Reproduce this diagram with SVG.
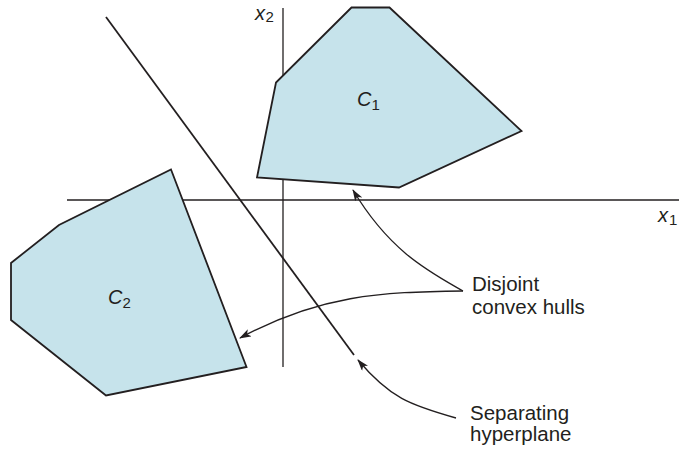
<svg xmlns="http://www.w3.org/2000/svg" width="679" height="452" viewBox="0 0 679 452">
<defs>
<style>
.hull{fill:#c6e3eb;stroke:#231f20;stroke-width:1.8;stroke-linejoin:miter}
.ax{stroke:#231f20;stroke-width:1.3;fill:none}
.ln{stroke:#231f20;stroke-width:1.8;fill:none}
.lead{stroke:#231f20;stroke-width:1.3;fill:none}
text{font-family:"Liberation Sans",Arial,sans-serif;fill:#231f20}
.lbl{font-size:20.5px}
.var{font-size:20px;font-style:italic}
.sub{font-size:15px;font-style:normal}
</style>
<marker id="ah" markerWidth="12" markerHeight="8" refX="11" refY="4" orient="auto" markerUnits="userSpaceOnUse">
<path d="M0,0 L12,4 L0,8 L3,4 Z" fill="#231f20"/>
</marker>
</defs>
<g id="axes">
<line class="ax" x1="67" y1="200" x2="679" y2="200"/>
<line class="ax" x1="283" y1="8" x2="283" y2="367"/>
<text class="var" x="255" y="19.5">x<tspan class="sub" dx="0.5" dy="2.5">2</tspan></text>
<text class="var" x="658" y="221.5">x<tspan class="sub" dx="1" dy="3.5">1</tspan></text>
</g>
<g id="C1">
<polygon class="hull" points="351.5,7.5 389.5,7.5 521.5,131 399,187.5 257,177.5 276,82.5"/>
<text class="var" x="357" y="106">C<tspan class="sub" dy="4">1</tspan></text>
</g>
<g id="C2">
<polygon class="hull" points="171,169.5 246.5,367 106,395.5 11,320 11,263 59,225"/>
<text class="var" x="108" y="304">C<tspan class="sub" dy="4">2</tspan></text>
</g>
<g id="hyperplane">
<line class="ln" x1="106" y1="17" x2="354" y2="355"/>
</g>
<g id="connectors">
<path class="lead" d="M463,291 C430,272 390,252 353,190" marker-end="url(#ah)"/>
<path class="lead" d="M463,291 C380,292 320,295 240,338" marker-end="url(#ah)"/>
<path class="lead" d="M456,418 C410,405 390,398 358,360" marker-end="url(#ah)"/>
</g>
<g id="labels">
<text class="lbl" x="472" y="291">Disjoint</text>
<text class="lbl" x="472" y="314">convex hulls</text>
<text class="lbl" x="470" y="420">Separating</text>
<text class="lbl" x="470" y="441">hyperplane</text>
</g>
</svg>
